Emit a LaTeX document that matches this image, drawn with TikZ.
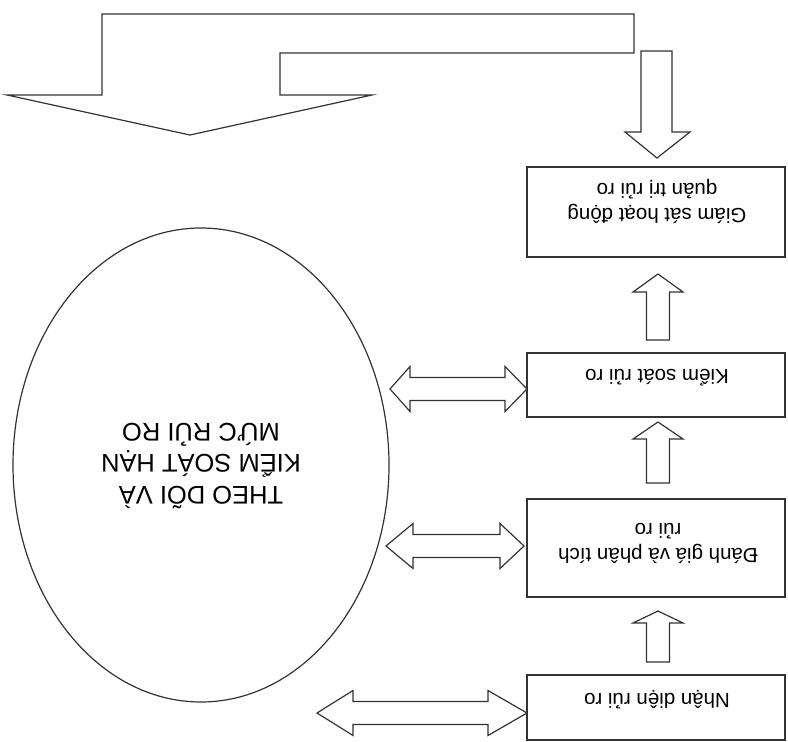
\documentclass[tikz,border=0pt]{standalone}
\XeTeXinputnormalization=1
\usepackage{fontspec}
\setmainfont{Liberation Sans}
\usetikzlibrary{shapes.geometric}
\tikzset{
  ln/.style={draw=black!80, line width=1.2pt, line join=miter},
  stepbox/.style={ln, rectangle, minimum width=258pt, inner sep=0pt},
  boxtext/.style={rotate=180, align=center, font=\fontsize{20.5}{25}\selectfont, inner sep=0pt},
  bigtext/.style={rotate=180, align=center, font=\fontsize{25.5}{31.5}\selectfont, inner sep=0pt},
  blk/.style={ln, fill=white}
}
\newcommand\upblock[4]{% x, tip y, head base y, bottom y
  \draw[blk] (#1,#2) -- ({#1+25},#3) -- ({#1+11.5},#3) -- ({#1+11.5},#4)
    -- ({#1-11.5},#4) -- ({#1-11.5},#3) -- ({#1-25},#3) -- cycle;}
\newcommand\dblblock[5]{% y, left tip, left base, right base, right tip
  \draw[blk] (#2,#1) -- (#3,{#1-22.5}) -- (#3,{#1-11.5}) -- (#4,{#1-11.5})
    -- (#4,{#1-22.5}) -- (#5,#1) -- (#4,{#1+22.5}) -- (#4,{#1+11.5})
    -- (#3,{#1+11.5}) -- (#3,{#1+22.5}) -- cycle;}
\begin{document}
\begin{tikzpicture}[x=1pt,y=-1pt]
\useasboundingbox[fill=white] (0,0) rectangle (788,742);

% boxes
\node[stepbox, minimum height=90pt] (b1) at (656,212) {};
\node[stepbox, minimum height=64pt] (b2) at (656,385) {};
\node[stepbox, minimum height=98pt] (b3) at (656,548) {};
\node[stepbox, minimum height=65pt] (b4) at (656,707.5) {};

\node[boxtext] (t1) at (657,201) {Giám sát hoạt động\\quản trị rủi ro};
\node[boxtext] (t2) at (657,378) {Kiểm soát rủi ro};
\node[boxtext] (t3) at (658,543) {Đánh giá và phân tích\\rủi ro};
\node[boxtext] (t4) at (657,700) {Nhận diện rủi ro};

% ellipse
\node[ln, ellipse, minimum width=376pt, minimum height=474pt, inner sep=0pt] (e) at (201,465) {};
\node[bigtext] (et) at (201,466) {THEO DÕI VÀ\\KIỂM SOÁT HẠN\\MỨC RỦI RO};

% up arrows between boxes
\upblock{658}{274}{292}{340}
\upblock{658}{422}{439}{483}
\upblock{658}{611}{623}{662}

% double arrows between ellipse and boxes
\dblblock{389}{390}{410}{505}{527}
\dblblock{546}{386}{413}{500}{524}
\dblblock{713}{317}{353}{488}{527}

% down arrow into top box
\draw[blk] (641,51) -- (672,51) -- (672,132) -- (690,132) -- (657,158)
  -- (625,132) -- (641,132) -- cycle;

% bent arrow at top
\draw[blk] (102,14) -- (634,14) -- (634,53) -- (280,53) -- (280,95) -- (372,95)
  -- (190,135) -- (7,95) -- (102,95) -- cycle;
\end{tikzpicture}
\end{document}
